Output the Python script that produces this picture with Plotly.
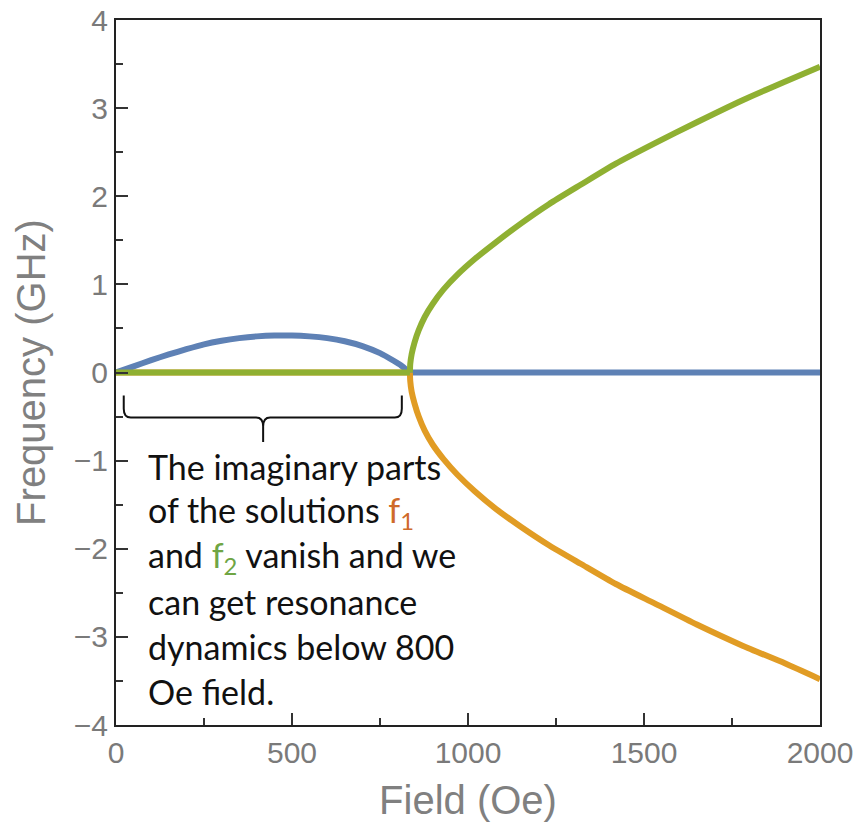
import plotly.graph_objects as go

# Imaginary part (below the critical field)
field_arc = [0, 50, 100, 150, 200, 250, 300, 350, 400, 450, 500, 550, 600, 650, 700, 750, 790, 810, 822, 828]
imag_arc = [0, 0.07, 0.14, 0.205, 0.265, 0.32, 0.36, 0.39, 0.41, 0.42, 0.42, 0.41, 0.39, 0.355, 0.30, 0.22, 0.13, 0.08, 0.04, 0]

# Real parts of the two solutions above the critical field
field_hi = [835, 836, 840, 848, 860, 877, 900, 930, 970, 1020, 1080, 1150, 1230, 1320, 1420, 1530, 1650, 1780, 1900, 2000]
f2_hi = [0, 0.10, 0.21, 0.34, 0.48, 0.63, 0.78, 0.94, 1.11, 1.29, 1.48, 1.69, 1.91, 2.13, 2.37, 2.60, 2.84, 3.09, 3.30, 3.47]
f1_hi = [0, -0.10, -0.22, -0.35, -0.50, -0.66, -0.82, -0.98, -1.16, -1.35, -1.55, -1.75, -1.96, -2.17, -2.40, -2.62, -2.86, -3.10, -3.30, -3.48]

# Flat (zero) segments
field_low = [0, 835]
zero_low = [0, 0]
field_flat = [828, 2000]
zero_flat = [0, 0]

x_ticks = [0, 500, 1000, 1500, 2000]
y_ticks = [-4, -3, -2, -1, 0, 1, 2, 3, 4]

BLUE = "#5E81B5"
ORANGE = "#E19C24"
GREEN = "#8FB032"
LW = 6

fig = go.Figure()

def add(x, y, color, smooth=True):
    fig.add_trace(go.Scatter(
        x=x, y=y, mode="lines",
        line=dict(color=color, width=LW, shape="spline" if smooth else "linear", smoothing=0.6),
        showlegend=False, hoverinfo="skip",
    ))

add(field_low, zero_low, ORANGE, smooth=False)
add(field_arc, imag_arc, BLUE)
add(field_flat, zero_flat, BLUE, smooth=False)
add(field_hi, f1_hi, ORANGE)
add(field_low, zero_low, GREEN, smooth=False)
add(field_hi, f2_hi, GREEN)

tick_font = dict(family="Liberation Sans, Arial, sans-serif", size=30, color="#7a7a7a")
title_font = dict(family="Liberation Sans, Arial, sans-serif", size=40, color="#808080")

fig.update_xaxes(
    range=[0, 2000], tickvals=x_ticks, ticks="inside", ticklen=12, tickwidth=2, tickcolor="#333",
    minor=dict(ticks="inside", ticklen=7, tickwidth=2, tickcolor="#333", dtick=250),
    showline=True, linecolor="#222", linewidth=2, mirror=True, automargin=False,
    showgrid=False, zeroline=False, tickfont=tick_font,
    title=dict(text="Field (Oe)", font=title_font, standoff=18),
)
fig.update_yaxes(
    range=[-4, 4], tickvals=y_ticks, ticks="inside", ticklen=12, tickwidth=2, tickcolor="#333",
    minor=dict(ticks="inside", ticklen=7, tickwidth=2, tickcolor="#333", dtick=0.5),
    showline=True, linecolor="#222", linewidth=2, mirror=True, automargin=False,
    showgrid=False, zeroline=False, tickfont=tick_font,
    title=dict(text="Frequency (GHz)", font=title_font, standoff=16),
)

# Curly brace spanning the low-field region
xl, xm, xr = 22, 418, 812
yt, yb, ytip = -0.26, -0.51, -0.79
rx, ry = 20, 0.10
brace = (
    f"M {xl},{yt} L {xl},{yb + ry} Q {xl},{yb} {xl + rx},{yb} "
    f"L {xm - rx},{yb} Q {xm},{yb} {xm},{yb - ry} L {xm},{ytip} "
    f"M {xm},{yb - ry} Q {xm},{yb} {xm + rx},{yb} "
    f"L {xr - rx},{yb} Q {xr},{yb} {xr},{yb + ry} L {xr},{yt}"
)
fig.add_shape(type="path", path=brace, xref="x", yref="y", line=dict(color="#111", width=2))

F1 = "#CF6A2A"
F2 = "#6FA544"
note_lines = [
    "The imaginary parts",
    f"of the solutions <span style='color:{F1}'>f<sub>1</sub></span>",
    f"and <span style='color:{F2}'>f<sub>2</sub></span> vanish and we",
    "can get resonance",
    "dynamics below 800",
    "Oe field.",
]
note_font = dict(family="Lato, 'Open Sans', sans-serif", size=34, color="#111")
for i, line in enumerate(note_lines):
    fig.add_annotation(
        x=0.043, y=-1.07 - 0.51 * i, xref="paper", yref="y",
        text=line, showarrow=False, xanchor="left", yanchor="middle",
        font=note_font, align="left",
    )

fig.update_layout(
    width=858, height=835,
    margin=dict(l=116, r=38, t=20, b=110),
    paper_bgcolor="white", plot_bgcolor="white",
)

fig.write_html("out.html")
